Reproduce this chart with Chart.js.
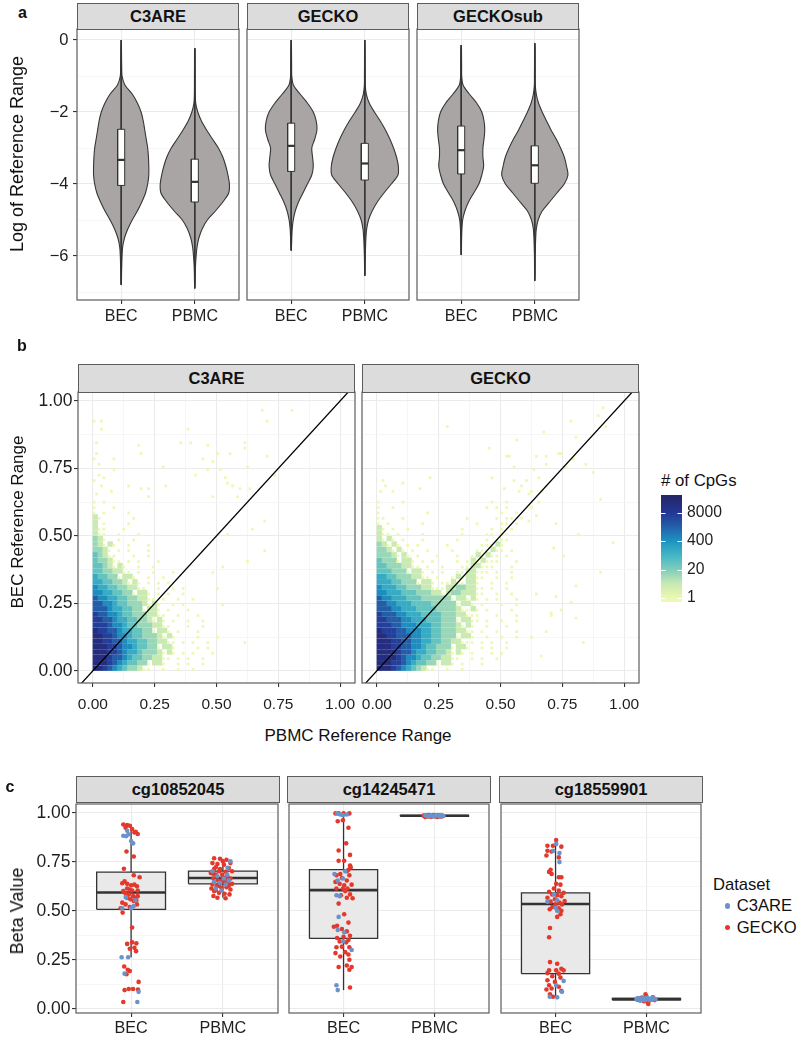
<!DOCTYPE html>
<html>
<head>
<meta charset="utf-8">
<script src="https://cdn.jsdelivr.net/npm/chart.js@4.4.1/dist/chart.umd.min.js"></script>
<style>
  body { margin: 0; background: #fff; }
  #page { position: relative; width: 797px; height: 1041px; overflow: hidden; background: #fff; }
</style>
</head>
<body>
<div id="page"></div>
<script>
// ---------------- panel a : violins ----------------
const violinFacets = ["C3ARE", "GECKO", "GECKOsub"];
const cellTypes = ["BEC", "PBMC"];
const violinGrid = [0, -0.25, -0.5, -0.75, -1, -1.25, -1.5, -1.75, -2, -2.25, -2.5, -2.75, -3, -3.25, -3.5,
  -3.75, -4, -4.25, -4.5, -4.75, -5, -5.25, -5.5, -5.75, -6, -6.25, -6.5, -6.75, -7];
// half widths of each violin (in category units) at violinGrid
const c3areBecWidth = [0, 0.004, 0.005, 0.007, 0.012, 0.05, 0.15, 0.22, 0.27, 0.30, 0.32, 0.34, 0.36, 0.37, 0.375,
  0.375, 0.36, 0.33, 0.28, 0.22, 0.15, 0.09, 0.045, 0.02, 0.012, 0.008, 0.005, 0.003, 0];
const c3arePbmcWidth = [0, 0.003, 0.004, 0.004, 0.005, 0.005, 0.006, 0.012, 0.04, 0.09, 0.16, 0.24, 0.32, 0.38, 0.42,
  0.45, 0.47, 0.46, 0.38, 0.28, 0.17, 0.10, 0.055, 0.03, 0.018, 0.01, 0.006, 0.004, 0];
const geckoBecWidth = [0, 0.004, 0.005, 0.006, 0.008, 0.03, 0.12, 0.22, 0.30, 0.34, 0.35, 0.32, 0.28, 0.29, 0.30,
  0.28, 0.22, 0.16, 0.10, 0.055, 0.028, 0.014, 0.008, 0.004, 0, 0, 0, 0, 0];
const geckoPbmcWidth = [0, 0.003, 0.004, 0.004, 0.005, 0.006, 0.02, 0.06, 0.13, 0.21, 0.28, 0.34, 0.39, 0.43, 0.455,
  0.45, 0.36, 0.26, 0.17, 0.10, 0.05, 0.025, 0.015, 0.01, 0.006, 0.004, 0.003, 0, 0];
const gsubBecWidth = [0, 0.004, 0.005, 0.006, 0.007, 0.025, 0.11, 0.21, 0.28, 0.31, 0.32, 0.31, 0.295, 0.295, 0.305,
  0.28, 0.24, 0.17, 0.10, 0.05, 0.02, 0.01, 0.006, 0.004, 0, 0, 0, 0, 0];
const gsubPbmcWidth = [0, 0.003, 0.004, 0.004, 0.005, 0.006, 0.02, 0.05, 0.10, 0.16, 0.22, 0.29, 0.35, 0.40, 0.43,
  0.45, 0.40, 0.30, 0.20, 0.10, 0.045, 0.02, 0.012, 0.008, 0.005, 0.004, 0.003, 0.002, 0];
const violinTop = [[0, -0.23], [0, 0], [-0.14, -0.09]];
const violinBottom = [[-6.8, -6.9], [-5.85, -6.55], [-5.97, -6.69]];
const violinQ1 = [[-4.04, -4.5], [-3.65, -3.89], [-3.72, -3.98]];
const violinMedian = [[-3.33, -3.94], [-2.94, -3.43], [-3.06, -3.48]];
const violinQ3 = [[-2.48, -3.31], [-2.31, -2.87], [-2.39, -2.94]];
const logTicks = [0, -2, -4, -6];
const logMinor = [-1, -3, -5, -7];

// ---------------- panel b : 2d histogram ----------------
const rangeFacets = ["C3ARE", "GECKO"];
const rangeTicks = [0, 0.25, 0.5, 0.75, 1];
const rangeMinor = [0.125, 0.375, 0.625, 0.875];
const cpgTicks = [1, 20, 400, 8000];
// level code -> number of CpGs per 0.01 bin inside a block ('1' = a lone CpG somewhere in the block)
const levelCounts = { 1: 1, 2: 4, 3: 12, 4: 40, 5: 150, 6: 500, 7: 2000, 8: 6000, 9: 20000 };
// 0.02 x 0.02 blocks, row 0 = BEC range 0.00-0.02, column 0 = PBMC range 0.00-0.02
const c3areBlocks = [
  "998765433211..1..1..1.........",
  "999876544331221..1.1..1.......",
  "9998776544332211.1.1..1.......",
  "99988765543332121.1.1...1.....",
  "99988766544331221....1.1......",
  "99887765544332211.1.1..1......",
  "99887665443332121....1...1....",
  "9887765544331221.1...1........",
  "8887665443332211...1..1.......",
  "887765544332121.1..1..1.......",
  "877665443332211..1...1........",
  "77765544331221.1...1..........",
  "77665443332121..1.1.......1...",
  "7665544332211.1..1..1.........",
  "665544331221.1.1..1...........",
  "65544332211..1..1.1......1....",
  "5544332121.1.1.1..............",
  "544331221..1..1...............",
  "44332211.1..1...1.......1.....",
  "4432121..1..1.............1...",
  "433211.1.1...1................",
  "43211...1..1..................",
  "3321.1.1...1..........1.......",
  "32121..1...1..................",
  "321..1..1.....................",
  "211..1...1.................1..",
  "211...1.......................",
  "2.1....1......................",
  "21......1.....................",
  "1.1....1......................",
  "1...1.........................",
  "1.1..........................."
];
const geckoBlocks = [
  "999876543211..1..1............",
  "9998876544331221.1...1........",
  "99998766544332211..1.1..1.....",
  "999987765544332121.1...1.1....",
  "9998877665443331221..1.1..1...",
  "99988776655443322111.1.1..1...",
  "99887776655443331221..1..1..1.",
  "98887766655443332211.1..1...1.",
  "88877666555443332121..1...1...",
  "887776655544433312211.1..1..1.",
  "877766555444433322111...1...1.",
  "777665554444333321121.1....1..",
  "77665554444333331221.1...1..1.",
  "766555444333333122121.1.1...1.",
  "6655544433322123322211..1..1..",
  "6555443332211122332211.1..1...",
  "555443331221.11211221..1..1...",
  "55443332211.1..1212211..1..1..",
  "4443331221.1.1..1122111.1..1..",
  "443332211.1..1...1122111...1..",
  "43331221.1.1....1.1212111...1.",
  "3332121.1...1...1..121211.1...",
  "332121.1..1....1....111211.1..",
  "32121.1.1.....1......11121....",
  "2121.1...1......1.....1.111...",
  "211.1....1.......1....11.11...",
  "21.1..1..........1.....1.1.1..",
  "1.1......1..........1....11.1.",
  "11...1............1.....1.11.1",
  "1.........1..............1..1.",
  "1..1..................1.1.1...",
  "1....1.................1..1..."
];
// single CpGs outside the block area [PBMC range, BEC range]
const c3areSingles = [[0.004, 0.929], [0.031, 0.929], [0.034, 0.892], [0.018, 0.842], [0.004, 0.781], [0.082, 0.781],
  [0.085, 0.746], [0.186, 0.830], [0.199, 0.808], [0.387, 0.892], [0.351, 0.845], [0.391, 0.845], [0.465, 0.833],
  [0.502, 0.808], [0.555, 0.808], [0.618, 0.842], [0.618, 0.829], [0.680, 0.963], [0.707, 0.929], [0.808, 0.963],
  [0.707, 0.796], [0.629, 0.759], [0.441, 0.781], [0.488, 0.775], [0.286, 0.759], [0.297, 0.684], [0.414, 0.721],
  [0.461, 0.746], [0.515, 0.746], [0.535, 0.713], [0.569, 0.684], [0.596, 0.674], [0.542, 0.696], [0.737, 0.721],
  [0.636, 0.670], [0.226, 0.676], [0.223, 0.645], [0.199, 0.676], [0.145, 0.688], [0.071, 0.664], [0.031, 0.682],
  [0.020, 0.725], [0.692, 0.552], [0.642, 0.528], [0.692, 0.445], [0.629, 0.405], [0.617, 0.108], [0.008, 0.700],
  [0.012, 0.655], [0.024, 0.760], [0.015, 0.805], [0.045, 0.712], [0.488, 0.640], [0.582, 0.645]];
const geckoSingles = [[0.288, 0.904], [0.787, 0.923], [0.804, 0.867], [0.912, 0.976], [0.895, 0.947], [0.926, 0.904],
  [0.670, 0.880], [0.567, 0.855], [0.454, 0.820], [0.527, 0.795], [0.645, 0.793], [0.740, 0.808], [0.683, 0.768],
  [0.558, 0.758], [0.467, 0.719], [0.632, 0.744], [0.848, 0.762], [0.875, 0.737], [0.794, 0.781], [0.760, 0.754],
  [0.652, 0.719], [0.605, 0.707], [0.585, 0.684], [0.686, 0.684], [0.625, 0.664], [0.213, 0.713], [0.170, 0.676],
  [0.105, 0.697], [0.065, 0.664], [0.031, 0.682], [0.902, 0.639], [0.956, 0.472], [0.818, 0.505], [0.726, 0.540],
  [0.713, 0.454], [0.902, 0.367], [0.807, 0.312], [0.746, 0.225], [0.706, 0.215], [0.807, 0.190], [0.787, 0.252],
  [0.648, 0.287], [0.754, 0.429], [0.835, 0.108], [0.680, 0.141], [0.667, 0.052], [0.620, 0.126], [0.721, 0.275],
  [0.700, 0.207], [0.532, 0.796], [0.680, 0.796], [0.734, 0.808], [0.620, 0.600], [0.650, 0.620], [0.610, 0.550],
  [0.640, 0.580], [0.660, 0.660], [0.610, 0.650], [0.580, 0.660], [0.550, 0.700], [0.510, 0.670], [0.020, 0.700],
  [0.010, 0.660]];

// ---------------- panel c : beta values ----------------
const probeFacets = ["cg10852045", "cg14245471", "cg18559901"];
const datasetNames = ["C3ARE", "GECKO"];
const betaTicks = [0, 0.25, 0.5, 0.75, 1];
const betaMinor = [0.125, 0.375, 0.625, 0.875];
// [lower whisker, q1, median, q3, upper whisker] for BEC, PBMC
const cg10852045Box = [[0.263, 0.508, 0.594, 0.698, 0.941], [0.567, 0.638, 0.668, 0.703, 0.766]];
const cg14245471Box = [[0.095, 0.359, 0.606, 0.711, 1.0], [0.979, 0.983, 0.986, 0.988, 0.991]];
const cg18559901Box = [[0.061, 0.179, 0.535, 0.592, 0.862], [0.038, 0.045, 0.049, 0.052, 0.060]];
// jittered samples [x position, beta]
const cg10852045Gecko = [[0.915, 0.941], [0.957, 0.938], [0.986, 0.935], [1.011, 0.918], [0.940, 0.925], [1.036, 0.901],
  [1.072, 0.893], [1.050, 0.904], [0.950, 0.803], [1.029, 0.778], [0.922, 0.715], [1.029, 0.682], [1.093, 0.672],
  [0.929, 0.651], [0.904, 0.641], [0.957, 0.638], [1.000, 0.631], [1.036, 0.634], [1.064, 0.626], [0.957, 0.614],
  [0.986, 0.609], [1.011, 0.604], [1.072, 0.604], [0.915, 0.601], [0.940, 0.587], [0.975, 0.584], [1.022, 0.575],
  [1.047, 0.567], [1.072, 0.575], [0.957, 0.567], [0.993, 0.559], [1.029, 0.550], [1.057, 0.554], [0.904, 0.542],
  [0.940, 0.533], [1.064, 0.533], [0.986, 0.520], [0.886, 0.513], [0.908, 0.491], [1.011, 0.415], [0.957, 0.331],
  [1.011, 0.339], [1.057, 0.334], [0.986, 0.306], [1.036, 0.311], [1.054, 0.294], [0.925, 0.216], [0.986, 0.192],
  [0.950, 0.176], [0.964, 0.199], [1.082, 0.137], [0.929, 0.095], [0.975, 0.101], [1.022, 0.101], [1.075, 0.098],
  [0.915, 0.034],
  [1.904, 0.769], [1.968, 0.766], [2.039, 0.761], [2.082, 0.744], [1.886, 0.744], [1.940, 0.739], [2.011, 0.736],
  [2.064, 0.719], [1.904, 0.714], [1.958, 0.702], [2.100, 0.702], [1.868, 0.694], [1.922, 0.685], [1.993, 0.685],
  [2.047, 0.677], [2.082, 0.665], [1.897, 0.665], [1.947, 0.655], [2.011, 0.648], [2.057, 0.643], [2.100, 0.638],
  [1.886, 0.635], [1.933, 0.626], [1.983, 0.618], [2.039, 0.621], [2.082, 0.609], [1.904, 0.601], [1.958, 0.592],
  [2.018, 0.587], [1.897, 0.576], [1.940, 0.567], [2.029, 0.564], [2.072, 0.584], [1.875, 0.614], [2.047, 0.660],
  [1.968, 0.714], [2.029, 0.700], [1.922, 0.723], [2.000, 0.752], [1.958, 0.628], [2.064, 0.628], [1.922, 0.605],
  [2.000, 0.672], [1.893, 0.690], [1.986, 0.655]];
const cg10852045C3are = [[0.957, 0.909], [0.915, 0.884], [0.947, 0.882], [1.000, 0.857], [1.022, 0.845], [0.971, 0.891],
  [0.943, 0.570], [1.047, 0.554], [0.904, 0.513], [1.000, 0.513], [1.029, 0.525], [0.897, 0.263], [0.968, 0.263],
  [0.929, 0.179], [1.082, 0.086], [1.068, 0.034],
  [2.082, 0.753], [1.886, 0.702], [1.940, 0.677], [2.011, 0.665], [2.064, 0.655], [1.968, 0.643], [1.904, 0.648],
  [2.032, 0.635], [1.986, 0.604], [2.047, 0.685], [1.922, 0.614], [2.050, 0.720]];
const cg14245471Gecko = [[0.911, 0.998], [0.946, 0.998], [1.000, 0.998], [1.064, 0.998], [0.936, 0.958], [0.993, 0.963],
  [1.054, 0.925], [1.029, 0.845], [0.946, 0.808], [1.071, 0.786], [0.946, 0.756], [1.007, 0.756], [1.071, 0.732],
  [1.079, 0.722], [1.054, 0.710], [1.036, 0.702], [0.964, 0.688], [0.922, 0.682], [1.064, 0.682], [0.982, 0.668],
  [1.036, 0.655], [0.911, 0.648], [0.957, 0.638], [1.007, 0.631], [1.089, 0.634], [0.993, 0.614], [1.043, 0.614],
  [0.922, 0.614], [1.018, 0.601], [1.071, 0.584], [0.971, 0.580], [1.036, 0.567], [1.100, 0.564], [0.946, 0.537],
  [1.007, 0.483], [1.054, 0.440], [0.893, 0.419], [0.929, 0.424], [0.982, 0.407], [1.036, 0.395], [1.071, 0.373],
  [0.929, 0.361], [1.000, 0.368], [1.054, 0.351], [0.957, 0.344], [1.029, 0.339], [0.922, 0.314], [0.982, 0.317],
  [1.064, 0.314], [0.911, 0.284], [1.018, 0.289], [1.054, 0.277], [0.964, 0.267], [1.064, 0.250], [1.036, 0.221],
  [1.089, 0.213], [0.946, 0.213], [1.064, 0.199], [1.071, 0.108],
  [1.89, 0.984], [1.92, 0.987], [1.95, 0.982], [1.98, 0.986], [2.01, 0.983], [2.04, 0.988], [2.07, 0.984],
  [2.09, 0.986], [1.90, 0.980], [1.94, 0.989], [1.97, 0.981], [2.00, 0.988], [2.03, 0.980], [2.06, 0.987],
  [1.91, 0.986], [1.96, 0.985], [2.02, 0.985], [2.08, 0.982], [1.93, 0.983], [1.99, 0.990], [2.05, 0.983],
  [1.88, 0.987]];
const cg14245471C3are = [[0.929, 0.997], [0.964, 0.992], [0.993, 0.989], [1.036, 0.992], [1.018, 0.702], [0.900, 0.688],
  [0.936, 0.655], [0.993, 0.665], [0.922, 0.580], [0.957, 0.575], [0.946, 0.469], [0.936, 0.402], [1.007, 0.390],
  [0.993, 0.344], [1.089, 0.300], [0.922, 0.120], [0.936, 0.095],
  [1.90, 0.988], [1.93, 0.985], [1.96, 0.988], [1.99, 0.984], [2.02, 0.987], [2.05, 0.985], [2.08, 0.988],
  [1.95, 0.986], [2.00, 0.986], [2.03, 0.989], [1.92, 0.983], [1.98, 0.983], [2.06, 0.982], [2.10, 0.985]];
const cg18559901Gecko = [[1.007, 0.862], [0.911, 0.833], [0.971, 0.833], [1.064, 0.828], [0.911, 0.807], [0.957, 0.803],
  [0.900, 0.783], [1.036, 0.773], [0.946, 0.710], [0.929, 0.699], [0.957, 0.688], [1.036, 0.672], [1.064, 0.672],
  [1.007, 0.638], [1.054, 0.634], [0.982, 0.614], [1.036, 0.604], [0.929, 0.597], [1.089, 0.592], [0.964, 0.584],
  [1.018, 0.580], [1.064, 0.575], [0.911, 0.567], [0.993, 0.559], [1.100, 0.550], [0.946, 0.547], [1.043, 0.542],
  [1.000, 0.533], [1.071, 0.533], [0.964, 0.520], [1.036, 0.513], [1.064, 0.500], [0.936, 0.508], [1.054, 0.483],
  [1.018, 0.469], [0.939, 0.412], [0.929, 0.365], [0.939, 0.238], [1.018, 0.230], [0.929, 0.196], [1.007, 0.196],
  [1.064, 0.204], [1.089, 0.196], [0.911, 0.182], [1.036, 0.179], [0.964, 0.166], [1.054, 0.159], [0.911, 0.145],
  [0.993, 0.137], [0.929, 0.120], [1.036, 0.112], [0.957, 0.103], [0.900, 0.098], [1.064, 0.091], [0.939, 0.074],
  [0.971, 0.061],
  [1.90, 0.046], [1.95, 0.057], [2.00, 0.062], [2.03, 0.040], [2.07, 0.058], [1.97, 0.038], [2.09, 0.044],
  [1.93, 0.052], [2.01, 0.034], [1.99, 0.074], [2.02, 0.024]];
const cg18559901C3are = [[1.007, 0.842], [0.975, 0.807], [1.043, 0.795], [1.043, 0.749], [0.982, 0.584], [1.018, 0.554],
  [0.911, 0.547], [1.000, 0.516], [1.018, 0.500], [1.089, 0.142], [1.007, 0.120], [1.071, 0.086], [0.936, 0.061],
  [1.018, 0.058],
  [1.89, 0.050], [1.92, 0.047], [1.94, 0.053], [1.97, 0.049], [1.99, 0.045], [2.02, 0.051], [2.05, 0.048],
  [2.08, 0.052], [2.10, 0.049], [1.91, 0.055], [1.96, 0.044], [2.01, 0.056], [2.04, 0.043], [2.07, 0.046],
  [1.93, 0.041], [1.98, 0.053], [2.03, 0.047], [2.06, 0.054], [1.95, 0.050], [2.00, 0.049]];

// ---------------- styling / helpers ----------------
const FONT = '"Liberation Sans", Arial, Helvetica, sans-serif';
Chart.defaults.font.family = FONT;
const page = document.getElementById("page");
const heatStops = ["#edf8b1", "#c7e9b4", "#7fcdbb", "#41b6c4", "#1d91c0", "#225ea8", "#253494", "#24286b"];
const countMin = 1, countMax = 40000;
const red = "#e2392c", blue = "#6a93cb";

function hexToRgb(h) {
  return [1, 3, 5].map(i => parseInt(h.slice(i, i + 2), 16));
}

function heatColor(n) {
  let t = Math.log(n / countMin) / Math.log(countMax / countMin);
  t = Math.min(1, Math.max(0, t)) * (heatStops.length - 1);
  const i = Math.min(Math.floor(t), heatStops.length - 2);
  const f = t - i;
  const a = hexToRgb(heatStops[i]), b = hexToRgb(heatStops[i + 1]);
  return "rgb(" + a.map((v, k) => Math.round(v + (b[k] - v) * f)).join(",") + ")";
}

function addText(str, x, y, size, opts = {}) {
  const d = document.createElement("div");
  d.textContent = str;
  const tx = opts.left ? "0" : "-50%";
  const rot = opts.rotate ? " rotate(-90deg)" : "";
  d.style.cssText = `position:absolute;left:${x}px;top:${y}px;font:${opts.bold ? "bold " : ""}${size}px ${FONT};` +
    `line-height:1;white-space:nowrap;color:#111;transform:translate(${tx},-50%)${rot};`;
  page.appendChild(d);
}

function addStrip(label, l, t, w, h) {
  const d = document.createElement("div");
  d.textContent = label;
  d.style.cssText = `position:absolute;left:${l}px;top:${t}px;width:${w}px;height:${h}px;box-sizing:border-box;` +
    `background:#dcdcdc;border:1.2px solid #5c5c5c;font:bold 16.5px ${FONT};color:#111;` +
    `display:flex;align-items:center;justify-content:center;`;
  page.appendChild(d);
}

const panelBorder = {
  id: "panelBorder",
  afterDraw(chart) {
    const { ctx, chartArea: a } = chart;
    ctx.save();
    ctx.strokeStyle = "#5c5c5c";
    ctx.lineWidth = 1.2;
    ctx.strokeRect(a.left, a.top, a.right - a.left, a.bottom - a.top);
    ctx.restore();
  }
};

function axis(o) {
  const all = o.major.concat(o.minor || []).sort((a, b) => a - b);
  const isMinor = v => !o.major.some(m => Math.abs(m - v) < 1e-9);
  return {
    type: "linear", min: o.min, max: o.max,
    afterBuildTicks: s => { s.ticks = all.map(v => ({ value: v })); },
    afterFit: s => {
      if (o.dir === "x") s.height = o.size; else s.width = o.size;
      s.paddingTop = s.paddingBottom = s.paddingLeft = s.paddingRight = 0;
    },
    border: { display: false },
    grid: {
      color: c => (c.tick && isMinor(c.tick.value)) ? "#f4f4f4" : "#ebebeb",
      lineWidth: c => (c.tick && isMinor(c.tick.value)) ? 0.8 : 1.1,
      drawTicks: o.show, tickLength: 4, tickWidth: 1.1,
      tickColor: c => (c.tick && isMinor(c.tick.value)) ? "rgba(0,0,0,0)" : "#333"
    },
    ticks: {
      display: o.show, autoSkip: false, maxRotation: 0, minRotation: 0, padding: o.pad,
      color: "#1e1e1e", font: { family: FONT, size: o.font },
      callback: v => isMinor(v) ? "" : o.fmt(v)
    }
  };
}

function facet(box, xAx, yAx, datasets) {
  const mt = 2, mr = 2;
  const W = box.w + box.ml + mr, H = box.h + mt + box.mb;
  const cv = document.createElement("canvas");
  cv.width = W; cv.height = H;
  cv.style.cssText = `position:absolute;left:${box.l - box.ml}px;top:${box.t - mt}px;width:${W}px;height:${H}px;`;
  page.appendChild(cv);
  return new Chart(cv, {
    type: "scatter",
    data: { datasets },
    options: {
      responsive: false, animation: false, events: [],
      layout: { padding: { left: 0, top: mt, right: mr, bottom: 0 } },
      plugins: { legend: { display: false }, tooltip: { enabled: false } },
      scales: {
        x: axis(Object.assign({ dir: "x", size: box.mb }, xAx)),
        y: axis(Object.assign({ dir: "y", size: box.ml }, yAx))
      }
    },
    plugins: [panelBorder]
  });
}

function path(points, o) {
  return Object.assign({ data: points, showLine: true, pointRadius: 0, borderColor: "#333", borderWidth: 1,
    fill: false, tension: 0 }, o);
}

function rect(x0, x1, y0, y1) {
  return [{ x: x0, y: y0 }, { x: x1, y: y0 }, { x: x1, y: y1 }, { x: x0, y: y1 }, { x: x0, y: y0 }];
}

function violinOutline(w, top, bottom, xc) {
  const right = [{ x: xc, y: top }];
  violinGrid.forEach((y, i) => { if (y < top && y > bottom) right.push({ x: xc + w[i], y }); });
  right.push({ x: xc, y: bottom });
  const left = right.slice(1, -1).reverse().map(p => ({ x: 2 * xc - p.x, y: p.y }));
  return right.concat(left, [right[0]]);
}

const catFmt = v => cellTypes[Math.round(v) - 1];
const minusFmt = v => v === 0 ? "0" : "\u2212" + Math.abs(v);
const twoFmt = v => v.toFixed(2);

// ---------------- draw panel a ----------------
const violinWidths = [[c3areBecWidth, c3arePbmcWidth], [geckoBecWidth, geckoPbmcWidth], [gsubBecWidth, gsubPbmcWidth]];
const aLefts = [77, 247, 417];
violinFacets.forEach((name, f) => {
  const ds = [];
  cellTypes.forEach((ct, g) => {
    const xc = g + 1;
    ds.push(path(violinOutline(violinWidths[f][g], violinTop[f][g], violinBottom[f][g], xc),
      { fill: "shape", backgroundColor: "#aaa5a5", borderColor: "#363636", borderWidth: 1.1, tension: 0.3, order: 4 }));
    ds.push(path([{ x: xc, y: violinTop[f][g] }, { x: xc, y: violinBottom[f][g] }], { order: 3 }));
    ds.push(path(rect(xc - 0.048, xc + 0.048, violinQ1[f][g], violinQ3[f][g]),
      { fill: "shape", backgroundColor: "#ffffff", order: 2 }));
    ds.push(path([{ x: xc - 0.048, y: violinMedian[f][g] }, { x: xc + 0.048, y: violinMedian[f][g] }],
      { borderWidth: 2.2, order: 1 }));
  });
  const first = f === 0;
  facet({ l: aLefts[f], t: 29, w: 162, h: 271, ml: first ? 75 : 2, mb: 30 },
    { min: 0.4, max: 2.6, major: [1, 2], show: true, pad: 3, font: 16, fmt: catFmt },
    { min: -7.222, max: 0.306, major: logTicks, minor: logMinor, show: first, pad: 4.5, font: 16.5, fmt: minusFmt },
    ds);
  addStrip(name, aLefts[f], 3, 162, 27);
});
addText("a", 22.5, 13, 16, { bold: true });
addText("Log of Reference Range", 16.5, 154, 18, { rotate: true });

// ---------------- draw panel b ----------------
const blockStep = 0.02, binStep = 0.01;
function blocksToCells(rows, dense) {
  const pts = [];
  rows.forEach((row, r) => {
    for (let c = 0; c < row.length; c++) {
      const n = levelCounts[row[c]];
      if (!n) continue;
      if (dense && n > 1) pts.push({ x: (c + 0.5) * blockStep, y: (r + 0.5) * blockStep, n });
      if (!dense && n === 1) pts.push({ x: c * blockStep + binStep / 2, y: r * blockStep + binStep / 2, n });
    }
  });
  return pts;
}
function singlesToCells(list) {
  return list.map(([x, y]) => ({ x: Math.floor(x / binStep) * binStep + binStep / 2,
    y: Math.floor(y / binStep) * binStep + binStep / 2, n: 1 }));
}
function cellRadius(step) {
  return ctx => {
    const { x, y } = ctx.chart.scales;
    const w = Math.abs(x.getPixelForValue(step) - x.getPixelForValue(0));
    const h = Math.abs(y.getPixelForValue(step) - y.getPixelForValue(0));
    return Math.max(w, h) / 2 * Math.SQRT2;
  };
}
const cellColor = ctx => ctx.raw ? heatColor(ctx.raw.n) : "#fff";
const bBlocks = [c3areBlocks, geckoBlocks];
const bSingles = [c3areSingles, geckoSingles];
const bLefts = [78, 362];
rangeFacets.forEach((name, f) => {
  const ds = [
    { data: blocksToCells(bBlocks[f], true), pointStyle: "rect", pointRadius: cellRadius(blockStep),
      pointBackgroundColor: cellColor, pointBorderWidth: 0, order: 3 },
    { data: blocksToCells(bBlocks[f], false).concat(singlesToCells(bSingles[f])), pointStyle: "rect",
      pointRadius: cellRadius(binStep), pointBackgroundColor: cellColor, pointBorderWidth: 0, order: 2 },
    path([{ x: -0.2, y: -0.2 }, { x: 1.2, y: 1.2 }], { borderColor: "#000", borderWidth: 1.3, order: 1 })
  ];
  const first = f === 0;
  facet({ l: bLefts[f], t: 392, w: 277, h: 291, ml: first ? 76 : 2, mb: 32 },
    { min: -0.06, max: 1.06, major: rangeTicks, minor: rangeMinor, show: true, pad: 8, font: 15.5, fmt: twoFmt },
    { min: -0.045, max: 1.033, major: rangeTicks, minor: rangeMinor, show: first, pad: 1.5, font: 17.5, fmt: twoFmt },
    ds);
  addStrip(name, bLefts[f], 364, 277, 29);
});
addText("b", 22, 346, 16, { bold: true });
addText("BEC Reference Range", 16.5, 522, 17, { rotate: true });
addText("PBMC Reference Range", 358, 735, 17);

// colour bar
(function () {
  const box = { l: 661, t: 495, w: 21, h: 107 };
  const padL = 6, padT = 5, padB = 6, axisW = 60;
  const W = padL + box.w + axisW, H = padT + box.h + padB;
  const cv = document.createElement("canvas");
  cv.width = W; cv.height = H;
  cv.style.cssText = `position:absolute;left:${box.l - padL}px;top:${box.t - padT}px;width:${W}px;height:${H}px;`;
  page.appendChild(cv);
  const barMin = 0.655, barMax = 52000;
  const tickMarks = {
    id: "tickMarks",
    afterDatasetsDraw(chart) {
      const { ctx, chartArea: a } = chart;
      ctx.save();
      ctx.strokeStyle = "#ffffff";
      ctx.lineWidth = 1;
      cpgTicks.forEach(v => {
        const y = Math.round(chart.scales.y.getPixelForValue(v)) + 0.5;
        ctx.beginPath();
        ctx.moveTo(a.left, y); ctx.lineTo(a.left + 4.5, y);
        ctx.moveTo(a.right - 4.5, y); ctx.lineTo(a.right, y);
        ctx.stroke();
      });
      ctx.restore();
    }
  };
  new Chart(cv, {
    type: "bar",
    data: {
      labels: [""],
      datasets: [{
        data: [[barMin, barMax]], barPercentage: 1, categoryPercentage: 1, borderWidth: 0,
        backgroundColor: ctx => {
          const chart = ctx.chart;
          if (!chart.chartArea) return heatStops[0];
          const ys = chart.scales.y;
          const y0 = ys.getPixelForValue(countMin), y1 = ys.getPixelForValue(countMax);
          const g = chart.ctx.createLinearGradient(0, y0, 0, y1);
          heatStops.forEach((c, i) => g.addColorStop(i / (heatStops.length - 1), c));
          return g;
        }
      }]
    },
    options: {
      responsive: false, animation: false, events: [],
      layout: { padding: { left: padL, top: padT, bottom: padB, right: 0 } },
      plugins: { legend: { display: false }, tooltip: { enabled: false } },
      scales: {
        x: { type: "category", display: false },
        y: {
          type: "logarithmic", position: "right", min: barMin, max: barMax,
          afterBuildTicks: s => { s.ticks = cpgTicks.map(v => ({ value: v })); },
          afterFit: s => { s.width = axisW; s.paddingTop = s.paddingBottom = 0; },
          grid: { display: false, drawTicks: false }, border: { display: false },
          ticks: { padding: 5, color: "#1e1e1e", font: { family: FONT, size: 15.7 }, callback: v => String(v) }
        }
      }
    },
    plugins: [tickMarks]
  });
  addText("# of CpGs", 661, 480.5, 16.8, { left: true });
})();

// ---------------- draw panel c ----------------
const probeBoxes = [cg10852045Box, cg14245471Box, cg18559901Box];
const probeGecko = [cg10852045Gecko, cg14245471Gecko, cg18559901Gecko];
const probeC3are = [cg10852045C3are, cg14245471C3are, cg18559901C3are];
const cLefts = [76, 287, 499];
const toPts = list => list.map(([x, y]) => ({ x, y }));
probeFacets.forEach((name, f) => {
  const ds = [];
  cellTypes.forEach((ct, g) => {
    const xc = g + 1, hw = 0.375;
    const [lo, q1, med, q3, hi] = probeBoxes[f][g];
    ds.push(path([{ x: xc, y: q3 }, { x: xc, y: hi }], { borderWidth: 1.3, order: 6 }));
    ds.push(path([{ x: xc, y: lo }, { x: xc, y: q1 }], { borderWidth: 1.3, order: 6 }));
    ds.push(path(rect(xc - hw, xc + hw, q1, q3), { fill: "shape", backgroundColor: "#e9e9e9", borderWidth: 1.3, order: 5 }));
    ds.push(path([{ x: xc - hw, y: med }, { x: xc + hw, y: med }], { borderWidth: 2.6, order: 4 }));
  });
  ds.push({ data: toPts(probeGecko[f]), pointRadius: 2.3, pointBackgroundColor: red, pointBorderWidth: 0, order: 2 });
  ds.push({ data: toPts(probeC3are[f]), pointRadius: 2.3, pointBackgroundColor: blue, pointBorderWidth: 0, order: 1 });
  const first = f === 0;
  facet({ l: cLefts[f], t: 802, w: 204, h: 211, ml: first ? 74 : 2, mb: 27 },
    { min: 0.4, max: 2.6, major: [1, 2], show: true, pad: 2, font: 16.2, fmt: catFmt },
    { min: -0.022, max: 1.046, major: betaTicks, minor: betaMinor, show: first, pad: 1.5, font: 17.5, fmt: twoFmt },
    ds);
  addStrip(name, cLefts[f], 776, 204, 27);
});
addText("c", 10, 787, 16, { bold: true });
addText("Beta Value", 16.5, 911, 18, { rotate: true });

// legend for panel c
addText("Dataset", 713, 884.5, 16.6, { left: true });
[blue, red].forEach((col, i) => {
  const y = 906 + i * 21.6;
  const dot = document.createElement("div");
  dot.style.cssText = `position:absolute;left:${727.3 - 2.6}px;top:${y - 2.6}px;width:5.2px;height:5.2px;border-radius:50%;background:${col};`;
  page.appendChild(dot);
  addText(datasetNames[i], 736.7, y, 16.6, { left: true });
});
</script>
</body>
</html>
